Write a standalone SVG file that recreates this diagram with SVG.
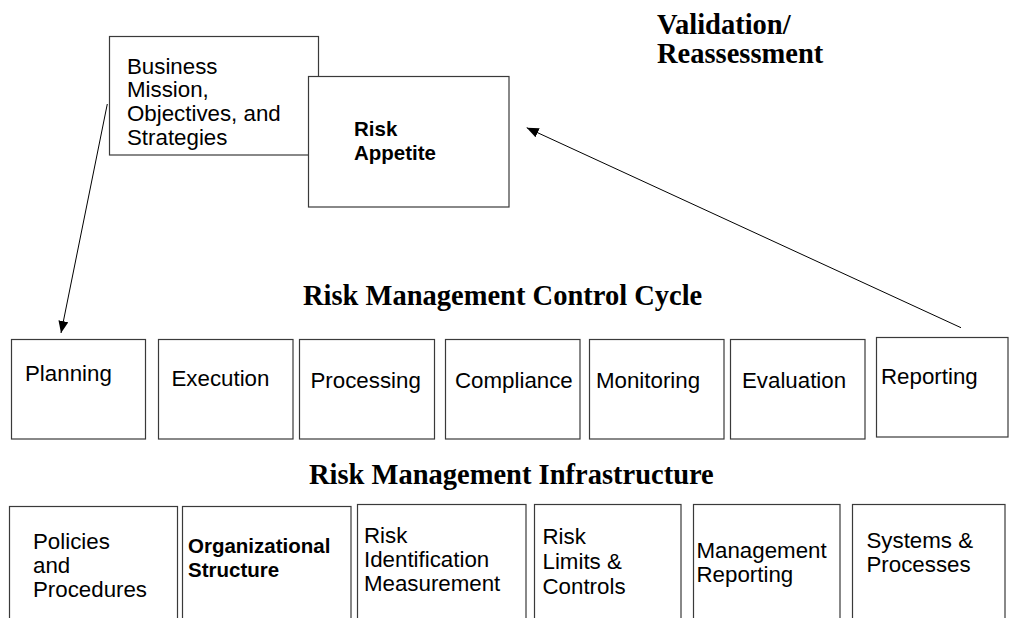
<svg xmlns="http://www.w3.org/2000/svg" width="1009" height="618" viewBox="0 0 1009 618">
  <style>
    .box { fill: #ffffff; stroke: #3a3a3a; stroke-width: 1.2; }
    .lbl { font-family: "Liberation Sans", Arial, sans-serif; font-size: 22.3px; fill: #000; }
    .lblb { font-family: "Liberation Sans", Arial, sans-serif; font-size: 20.5px; font-weight: bold; fill: #000; }
    .title { font-family: "Liberation Serif", "Times New Roman", serif; font-size: 28.5px; font-weight: bold; fill: #000; }
    .conn { stroke: #000; stroke-width: 1; fill: none; }
  </style>
  <defs>
    <marker id="arrow" viewBox="0 0 12 10" refX="12" refY="5" markerWidth="12" markerHeight="10" markerUnits="userSpaceOnUse" orient="auto">
      <path d="M0,0 L12,5 L0,10 Z" fill="#000"/>
    </marker>
  </defs>
  <rect width="1009" height="618" fill="#ffffff"/>

  <!-- headings -->
  <text class="title" x="657" y="34">Validation/</text>
  <text class="title" x="657" y="63">Reassessment</text>
  <text class="title" x="303" y="305">Risk Management Control Cycle</text>
  <text class="title" x="309" y="484">Risk Management Infrastructure</text>

  <!-- strategy / appetite -->
  <g id="business-mission">
    <rect class="box" x="109.5" y="36.5" width="209" height="118.5"/>
    <text class="lbl" x="127" y="74">Business</text>
    <text class="lbl" x="127" y="97">Mission,</text>
    <text class="lbl" x="127" y="121">Objectives, and</text>
    <text class="lbl" x="127" y="145">Strategies</text>
  </g>
  <g id="risk-appetite">
    <rect class="box" x="308.5" y="76.5" width="200.5" height="130.5"/>
    <text class="lblb" x="354" y="136">Risk</text>
    <text class="lblb" x="354" y="160">Appetite</text>
  </g>

  <!-- control cycle -->
  <g id="planning">
    <rect class="box" x="11.5" y="339.5" width="134" height="99.5"/>
    <text class="lbl" x="25" y="381">Planning</text>
  </g>
  <g id="execution">
    <rect class="box" x="158.5" y="339.5" width="134.5" height="99.5"/>
    <text class="lbl" x="171.5" y="386">Execution</text>
  </g>
  <g id="processing">
    <rect class="box" x="299.5" y="339.5" width="135" height="99.5"/>
    <text class="lbl" x="310.5" y="388">Processing</text>
  </g>
  <g id="compliance">
    <rect class="box" x="445.5" y="339.5" width="134.5" height="99.5"/>
    <text class="lbl" x="455" y="388">Compliance</text>
  </g>
  <g id="monitoring">
    <rect class="box" x="589.5" y="339.5" width="134.5" height="99.5"/>
    <text class="lbl" x="596" y="388">Monitoring</text>
  </g>
  <g id="evaluation">
    <rect class="box" x="730.5" y="339.5" width="134.5" height="99.5"/>
    <text class="lbl" x="742" y="388">Evaluation</text>
  </g>
  <g id="reporting">
    <rect class="box" x="876.5" y="337.5" width="131.5" height="99.5"/>
    <text class="lbl" x="881" y="384">Reporting</text>
  </g>

  <!-- infrastructure -->
  <g id="policies">
    <rect class="box" x="9.5" y="506.5" width="168" height="130"/>
    <text class="lbl" x="33" y="549">Policies</text>
    <text class="lbl" x="33" y="573">and</text>
    <text class="lbl" x="33" y="597">Procedures</text>
  </g>
  <g id="org-structure">
    <rect class="box" x="182.5" y="506.5" width="168.5" height="130"/>
    <text class="lblb" x="188" y="553">Organizational</text>
    <text class="lblb" x="188" y="577">Structure</text>
  </g>
  <g id="risk-identification">
    <rect class="box" x="357.5" y="504.5" width="168.5" height="130"/>
    <text class="lbl" x="364" y="543">Risk</text>
    <text class="lbl" x="364" y="567">Identification</text>
    <text class="lbl" x="364" y="591">Measurement</text>
  </g>
  <g id="risk-limits">
    <rect class="box" x="534.5" y="504.5" width="146.5" height="130"/>
    <text class="lbl" x="542.5" y="544">Risk</text>
    <text class="lbl" x="542.5" y="569">Limits &amp;</text>
    <text class="lbl" x="542.5" y="594">Controls</text>
  </g>
  <g id="mgmt-reporting">
    <rect class="box" x="693.5" y="504.5" width="146.5" height="130"/>
    <text class="lbl" x="696.5" y="558">Management</text>
    <text class="lbl" x="696.5" y="582">Reporting</text>
  </g>
  <g id="systems">
    <rect class="box" x="852.5" y="504.5" width="152.5" height="130"/>
    <text class="lbl" x="866.5" y="548">Systems &amp;</text>
    <text class="lbl" x="866.5" y="572">Processes</text>
  </g>

  <!-- connectors -->
  <g id="connectors">
    <line class="conn" x1="107.3" y1="104" x2="61" y2="333" marker-end="url(#arrow)"/>
    <line class="conn" x1="961" y1="327.7" x2="526.7" y2="127.7" marker-end="url(#arrow)"/>
  </g>
</svg>
